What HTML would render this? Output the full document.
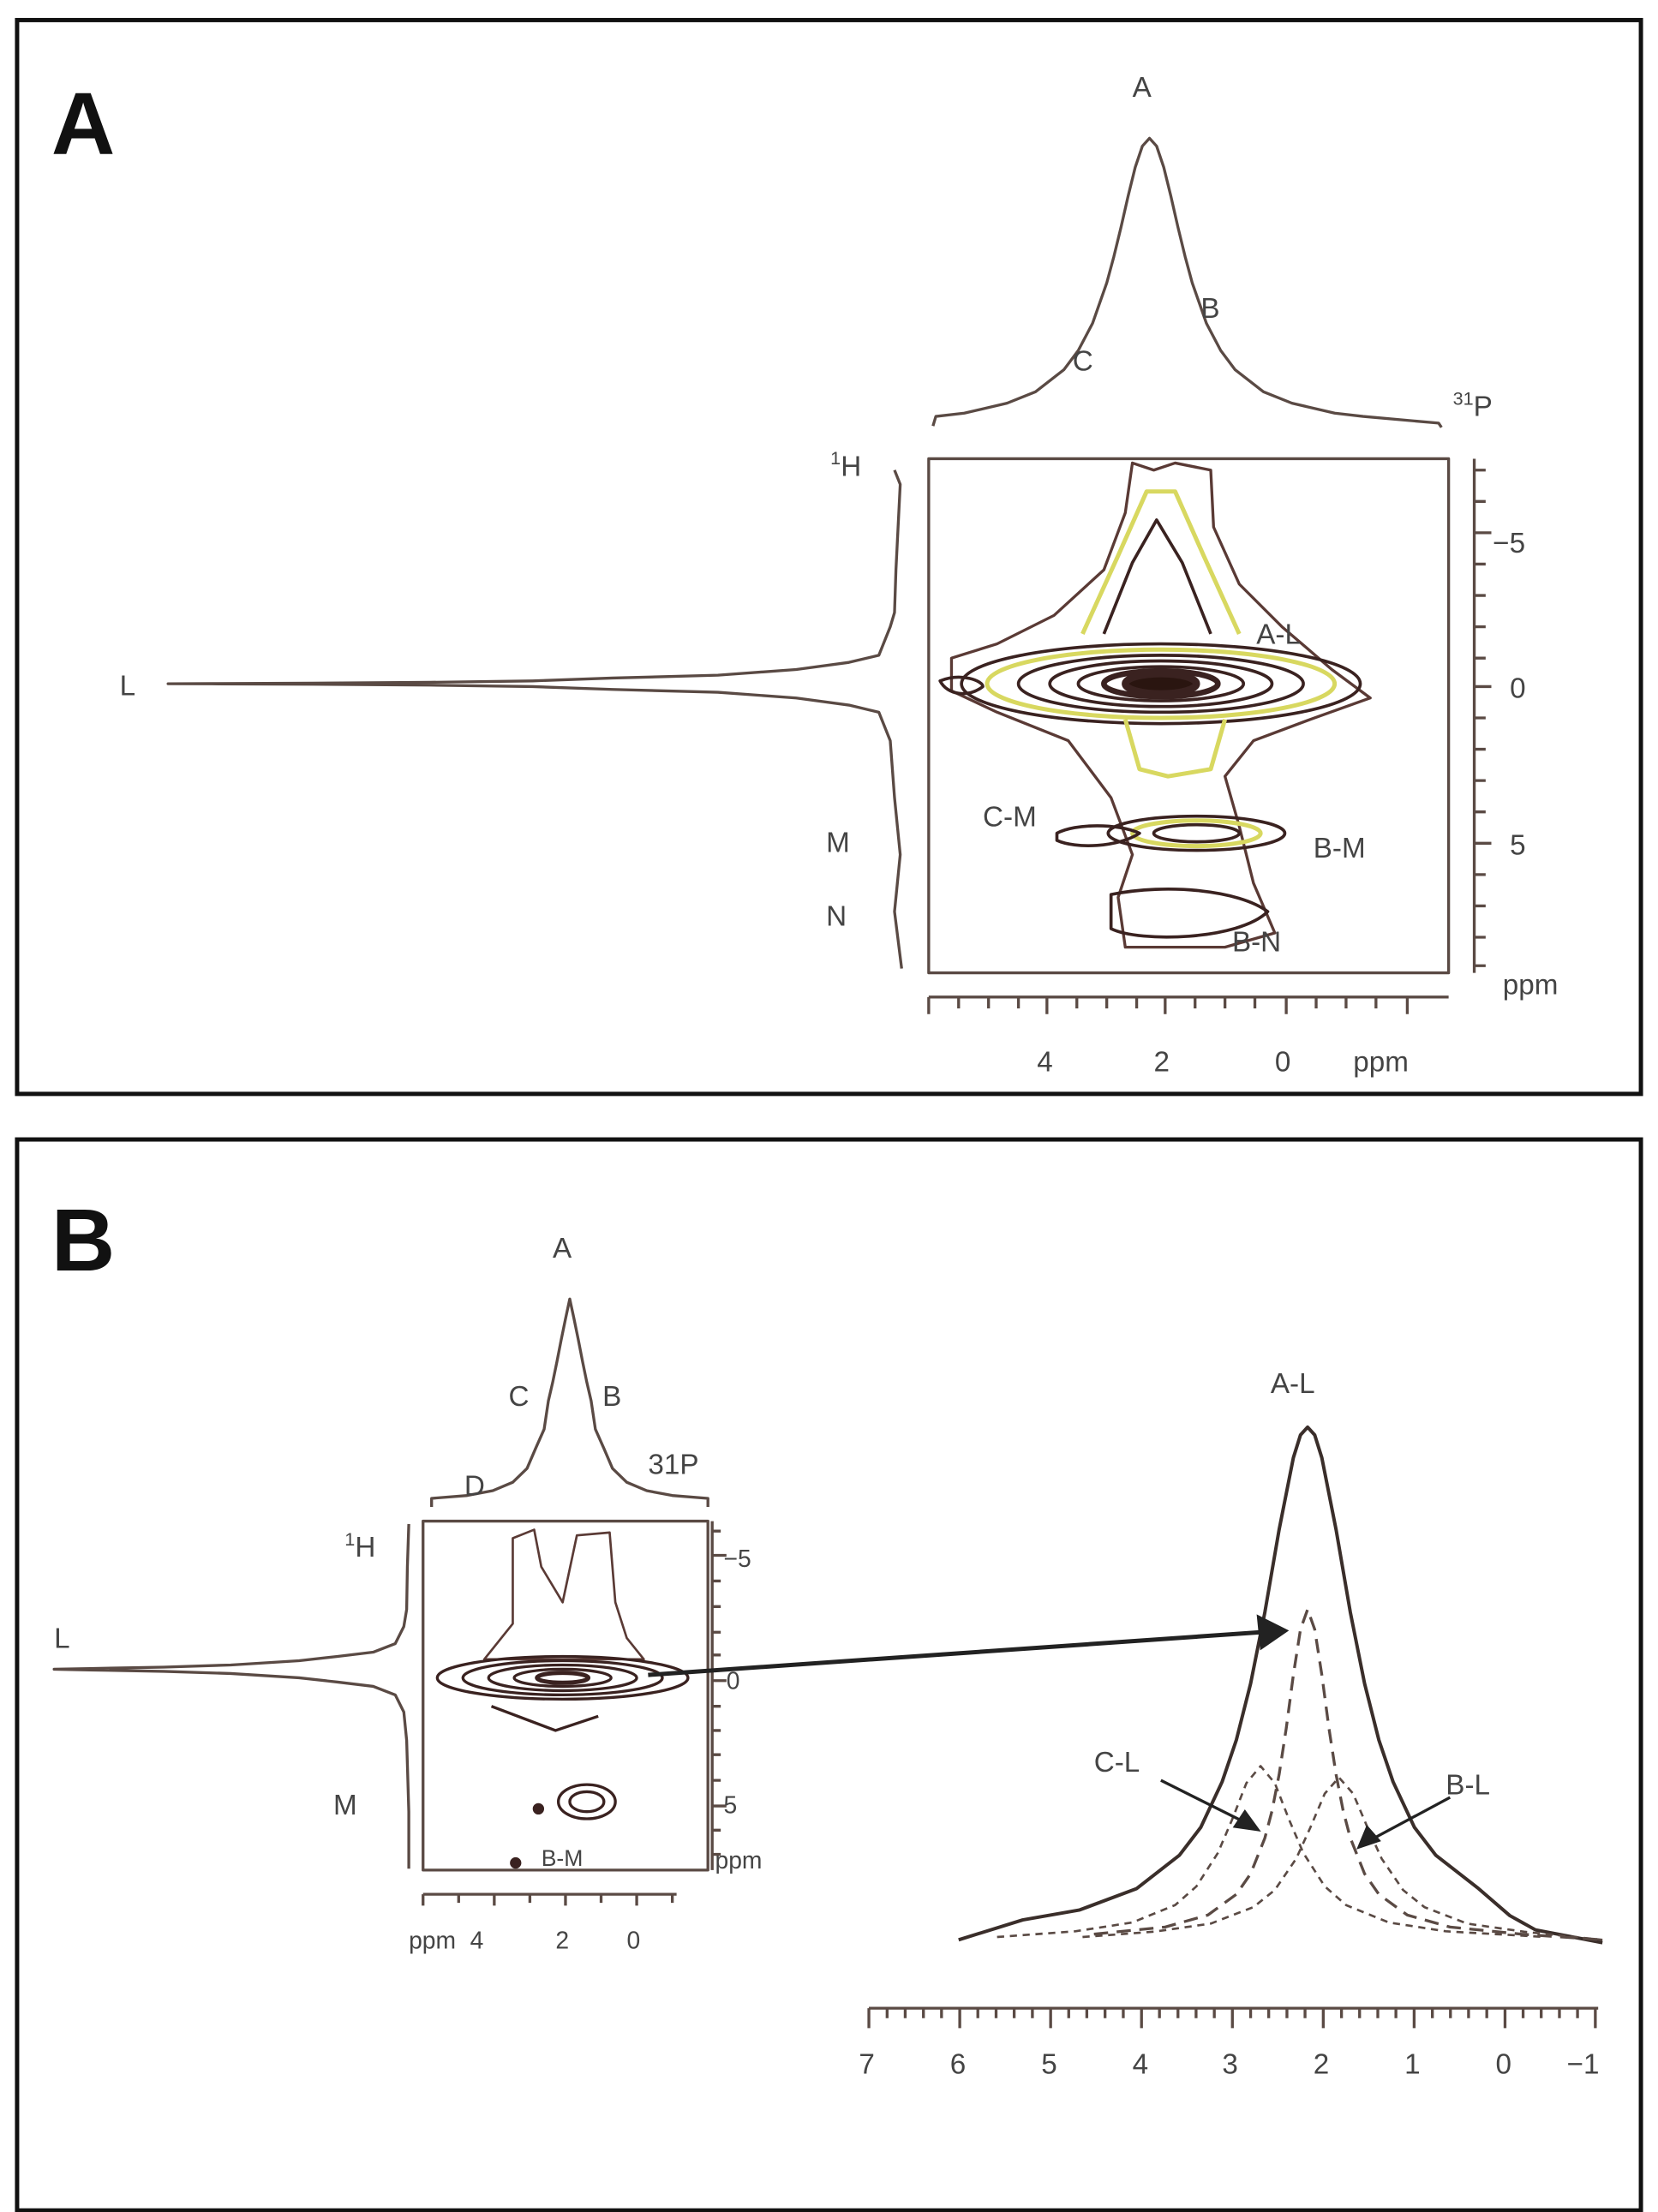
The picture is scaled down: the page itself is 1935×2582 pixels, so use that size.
<!DOCTYPE html>
<html><head><meta charset="utf-8"><style>
html,body{margin:0;padding:0;background:#fff;}
svg{display:block;}
text{font-family:"Liberation Sans",sans-serif;fill:#444;}
</style></head><body>
<svg width="1935" height="2582" viewBox="0 0 1164 1553" xmlns="http://www.w3.org/2000/svg">
<rect x="0" y="0" width="1164" height="1553" fill="#fff"/>
<rect x="12" y="14" width="1140" height="754" fill="none" stroke="#111" stroke-width="3"/>
<rect x="12" y="800" width="1140" height="752" fill="none" stroke="#111" stroke-width="3"/>
<text x="36" y="108" font-size="62" font-weight="bold" style="fill:#111">A</text>
<text x="36" y="892" font-size="62" font-weight="bold" style="fill:#111">B</text>

<g fill="none" stroke="#5a4a44" stroke-width="2" stroke-linejoin="round">
<polyline points="655,299 657,292.3 677,290 707,283 727,275 747,259.4 757,246 767,227 777,198.5 782,180 787,159.5 792,137.6 797,117.3 802,102.5 807,97 812,102.5 817,117.3 822,137.6 827,159.5 832,180 837,198.5 847,227 857,246 867,259.4 887,275 907,283 937,290 957,292.3 1010,297 1012,300"/>
<polyline points="628,330 632,340 629,400 628,430 625,440 617,460 596,465 559,470 504,474 430,476 374,478 302,479 220,479.6 148.7,479.9 118,480 148.7,480.1 220,480.4 302,481 374,482 430,484 504,486 559,490 596,495 617,500 625,520 628,560 632,600 628,640 633,680"/>
<rect x="652" y="322" width="365" height="361"/>
<line x1="1035" y1="322" x2="1035" y2="683"/>
<path d="M1035 330h8M1035 352h8M1035 374h12M1035 396h8M1035 418h8M1035 440h8M1035 462h8M1035 482h12M1035 504h8M1035 526h8M1035 548h8M1035 570h8M1035 592h12M1035 614h8M1035 636h8M1035 658h8M1035 678h8"/>
<line x1="652" y1="700" x2="1017" y2="700"/>
<path d="M652 700v12M673 700v8M694 700v8M715 700v8M735 700v12M756 700v8M777 700v8M798 700v8M818 700v12M839 700v8M860 700v8M881 700v8M903 700v12M924 700v8M945 700v8M966 700v8M988 700v12"/>

<polyline points="303,1058 303,1052 328,1050 346,1046.6 360,1040.7 370,1031 376,1017 382,1003.5 385,983.5 388,970.6 391,956 394,940.6 397,926 400,912 403,926 406,940.6 409,956 412,970.6 415,983.5 418,1003.5 424,1017 430,1031 440,1040.7 454,1046.6 472,1050 497,1052 497,1058"/>
<polyline points="287,1070 286,1100 285.5,1130 283.5,1142 277.5,1154 262,1160 237,1163 210,1166 162,1169 115,1170.5 63,1171.5 38,1172 63,1172.5 115,1173.5 162,1175 210,1178 237,1181 262,1184 277.5,1190 283.5,1202 285.5,1222 287,1272 287,1312"/>
<rect x="297" y="1068" width="200" height="245"/>
<line x1="500" y1="1068" x2="500" y2="1313"/>
<path d="M500 1075h6M500 1092h10M500 1110h6M500 1128h6M500 1146h6M500 1162h6M500 1180h10M500 1198h6M500 1215h6M500 1232h6M500 1250h6M500 1268h10M500 1285h6M500 1302h6"/>
<line x1="297" y1="1330" x2="475" y2="1330"/>
<path d="M297 1330v8M322 1330v6M347 1330v8M372 1330v6M397 1330v8M422 1330v6M447 1330v8M472 1330v6"/>

<polyline stroke="#3a2e2a" stroke-width="2.4" points="673,1362 718,1348 758,1341 798,1326 828,1302.6 843,1283 858,1251 868,1221.6 878,1182 888,1132 898,1074 908,1023.5 913,1007.5 918,1002 923,1007.5 928,1023.5 938,1074 948,1132 958,1182 968,1221.6 978,1251 993,1283 1008,1302.6 1038,1326 1060,1345 1078,1355 1125,1364"/>
<polyline stroke-dasharray="10,6" points="768,1358 818,1353 848,1344.6 868,1330 878,1315.6 888,1290.5 893,1271.5 898,1246 903,1213.5 908,1176 913,1144 918,1130 923,1144 928,1176 933,1213.5 938,1246 943,1271.5 948,1290.5 958,1315.6 968,1330 988,1344.6 1018,1353 1068,1358 1125,1362"/>
<polyline stroke-dasharray="5,4" stroke-width="1.6" points="700,1360 755,1356 795,1349.8 825,1337.6 840,1324.4 855,1301 865,1277.6 875,1252 885,1240 895,1252 905,1277.6 915,1301 930,1324.4 945,1337.6 975,1349.8 1015,1356 1085,1360"/>
<polyline stroke-dasharray="5,4" stroke-width="1.6" points="760,1360 810,1356.3 850,1350.6 880,1339 895,1327 910,1305 920,1283 930,1259.4 940,1248 950,1259.4 960,1283 970,1305 985,1327 1000,1339 1030,1350.6 1070,1356.3 1125,1362"/>
<line x1="610" y1="1410" x2="1122" y2="1410"/>
<path d="M610 1410v14M673.8 1410v14M737.6 1410v14M801.4 1410v14M865.2 1410v14M929 1410v14M992.8 1410v14M1056.6 1410v14M1120 1410v14"/>
<path d="M622.8 1410v7M635.5 1410v7M648.3 1410v7M661 1410v7M686.5 1410v7M699.3 1410v7M712 1410v7M724.8 1410v7M750.3 1410v7M763 1410v7M775.8 1410v7M788.6 1410v7M814 1410v7M827 1410v7M839.7 1410v7M852.5 1410v7M878 1410v7M890.7 1410v7M903.5 1410v7M916.2 1410v7M941.8 1410v7M954.5 1410v7M967.3 1410v7M980 1410v7M1005.6 1410v7M1018.3 1410v7M1031 1410v7M1043.8 1410v7M1069.3 1410v7M1082 1410v7M1094.8 1410v7M1107.5 1410v7"/>
</g>

<g fill="none" stroke="#3a2220" stroke-width="2.2" stroke-linejoin="round">
<path d="M668 462 L700 452 L740 432 L775 400 L790 360 L795 325 L810 330 L825 325 L850 330 L852 370 L870 410 L900 440 L935 470 L962 490 L920 505 L880 520 L860 545 L870 580 L880 620 L895 655 L860 665 L790 665 L785 630 L795 600 L780 560 L750 520 L700 500 L668 485 Z" stroke="#5a3a35" stroke-width="2"/>
<path d="M760 445 L785 390 L805 345 L825 345 L845 390 L870 445" stroke="#d8d860" stroke-width="3"/>
<path d="M775 445 L795 395 L812 365 L830 395 L850 445"/>
<ellipse cx="815" cy="480" rx="140" ry="28"/>
<ellipse cx="815" cy="480" rx="122" ry="24" stroke="#d8d860" stroke-width="3"/>
<ellipse cx="815" cy="480" rx="100" ry="20"/>
<ellipse cx="815" cy="480" rx="78" ry="16"/>
<ellipse cx="815" cy="480" rx="58" ry="12"/>
<ellipse cx="815" cy="480" rx="40" ry="9" stroke-width="4"/>
<ellipse cx="815" cy="480" rx="25" ry="7" stroke-width="5" fill="#2a1510"/>
<path d="M790 505 L800 540 L820 545 L850 540 L860 505" stroke="#d8d860" stroke-width="3"/>
<ellipse cx="840" cy="585" rx="62" ry="12"/>
<ellipse cx="840" cy="585" rx="45" ry="9" stroke="#d8d860" stroke-width="3"/>
<ellipse cx="840" cy="585" rx="30" ry="6"/>
<path d="M742 585 C755 578,785 578,800 585 C785 595,755 596,742 590 Z"/>
<path d="M780 628 C820 620,870 625,890 640 C870 660,800 662,780 652 Z"/>
<path d="M660 478 C675 472,690 478,690 482 C680 490,665 488,660 478Z"/>
</g>

<g fill="none" stroke="#3a2220" stroke-width="2" stroke-linejoin="round">
<path d="M360 1080 L375 1074 L380 1100 L395 1125 L405 1078 L428 1076 L432 1125 L440 1150 L452 1165 L340 1165 L360 1140 Z" stroke="#5a3a35" stroke-width="1.6"/>
<ellipse cx="395" cy="1178" rx="88" ry="15"/>
<ellipse cx="395" cy="1178" rx="70" ry="12"/>
<ellipse cx="395" cy="1178" rx="52" ry="9"/>
<ellipse cx="395" cy="1178" rx="34" ry="6"/>
<ellipse cx="395" cy="1178" rx="18" ry="3.5" stroke-width="3"/>
<path d="M345 1198 L390 1215 L420 1205"/>
<ellipse cx="412" cy="1265" rx="20" ry="12"/>
<ellipse cx="412" cy="1265" rx="12" ry="7"/>
<circle cx="378" cy="1270" r="3" fill="#3a2220"/>
<circle cx="362" cy="1308" r="3" fill="#3a2220"/>
</g>
<g stroke="#222" stroke-width="3" fill="#222">
<line x1="455" y1="1176" x2="885" y2="1146"/>
<polygon points="902,1145 884,1136 886,1156"/>
<line x1="815" y1="1250" x2="875" y2="1280" stroke-width="2"/>
<polygon points="882,1284 868,1282 874,1273"/>
<line x1="1018" y1="1262" x2="962" y2="1292" stroke-width="2"/>
<polygon points="955,1296 960,1284 967,1292"/>
</g>

<g font-size="20">
<text x="795" y="68">A</text>
<text x="843" y="223">B</text>
<text x="753" y="260">C</text>
<text x="1020" y="292"><tspan font-size="13" dy="-8">31</tspan><tspan dy="8">P</tspan></text>
<text x="583" y="334"><tspan font-size="13" dy="-8">1</tspan><tspan dy="8">H</tspan></text>
<text x="84" y="488">L</text>
<text x="580" y="598">M</text>
<text x="580" y="650">N</text>
<text x="882" y="452">A-L</text>
<text x="690" y="580">C-M</text>
<text x="922" y="602">B-M</text>
<text x="865" y="668">B-N</text>
<text x="1048" y="388">−5</text>
<text x="1060" y="490">0</text>
<text x="1060" y="600">5</text>
<text x="1055" y="698">ppm</text>
<text x="728" y="752">4</text>
<text x="810" y="752">2</text>
<text x="895" y="752">0</text>
<text x="950" y="752">ppm</text>

<text x="388" y="883">A</text>
<text x="357" y="987">C</text>
<text x="423" y="987">B</text>
<text x="326" y="1050">D</text>
<text x="455" y="1035">31P</text>
<text x="242" y="1093"><tspan font-size="13" dy="-8">1</tspan><tspan dy="8">H</tspan></text>
<text x="38" y="1157">L</text>
<text x="234" y="1274">M</text>
<text x="380" y="1310" font-size="16">B-M</text>
<text x="508" y="1100" font-size="17">−5</text>
<text x="510" y="1186" font-size="17">0</text>
<text x="508" y="1273" font-size="17">5</text>
<text x="502" y="1312" font-size="17">ppm</text>
<text x="287" y="1368" font-size="17">ppm</text>
<text x="330" y="1368" font-size="17">4</text>
<text x="390" y="1368" font-size="17">2</text>
<text x="440" y="1368" font-size="17">0</text>

<text x="892" y="978">A-L</text>
<text x="768" y="1244">C-L</text>
<text x="1015" y="1260">B-L</text>
<text x="603" y="1456">7</text>
<text x="667" y="1456">6</text>
<text x="731" y="1456">5</text>
<text x="795" y="1456">4</text>
<text x="858" y="1456">3</text>
<text x="922" y="1456">2</text>
<text x="986" y="1456">1</text>
<text x="1050" y="1456">0</text>
<text x="1100" y="1456">−1</text>
</g>
</svg>
</body></html>
